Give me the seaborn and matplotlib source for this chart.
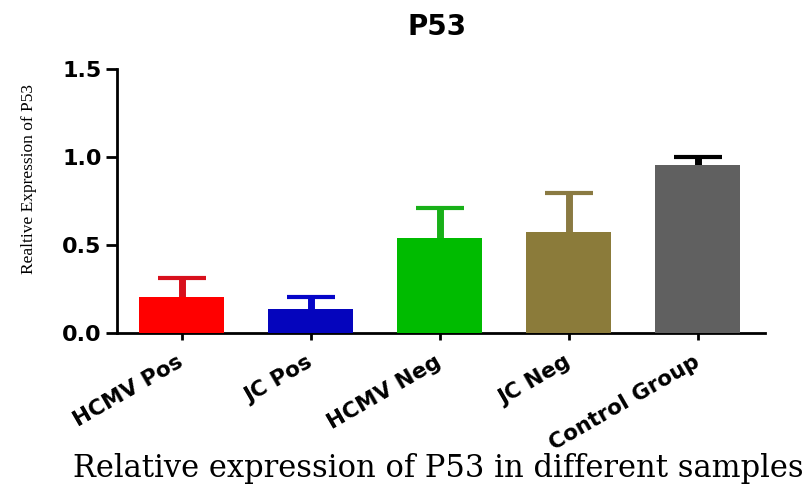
import matplotlib
matplotlib.use("Agg")
import matplotlib.pyplot as plt
import seaborn as sns
import pandas as pd

categories = ["HCMV Pos", "JC Pos", "HCMV Neg", "JC Neg", "Control Group"]
means = [0.205, 0.134, 0.537, 0.574, 0.955]
sem_upper = [0.108, 0.071, 0.176, 0.221, 0.043]
bar_colors = ["#ff0000", "#0505bd", "#00bb00", "#8b7b3a", "#606060"]
err_colors = ["#d8101c", "#0505c8", "#18b018", "#8a7a42", "#000000"]
y_ticks = [0.0, 0.5, 1.0, 1.5]
y_tick_labels = ["0.0", "0.5", "1.0", "1.5"]

sns.set_theme(style="white")
plt.rcParams["font.family"] = ["DejaVu Sans"]
plt.rcParams["text.color"] = "black"
plt.rcParams["xtick.color"] = "black"
plt.rcParams["ytick.color"] = "black"
plt.rcParams["axes.labelcolor"] = "black"

df = pd.DataFrame({"group": categories, "value": means})

fig = plt.figure(figsize=(8.12, 4.91), dpi=100)
ax = fig.add_axes([117 / 812, 1 - 333 / 491, (765 - 117) / 812, (333 - 69) / 491])

sns.barplot(data=df, x="group", y="value", hue="group", palette=bar_colors,
            order=categories, hue_order=categories, width=0.66,
            legend=False, ax=ax, saturation=1, zorder=3,
            edgecolor="none", linewidth=0)

for i, (m, e, c) in enumerate(zip(means, sem_upper, err_colors)):
    cont = ax.errorbar(i, m, yerr=[[0], [e]], fmt="none", ecolor=c,
                       elinewidth=5.0, capsize=17, capthick=3.0, zorder=2)
    caps = cont.lines[1]
    if len(caps) >= 2:
        caps[0].set_visible(False)

ax.set_xlim(-0.5, 4.52)
ax.set_ylim(0, 1.5)
ax.set_yticks(y_ticks)
ax.set_yticklabels(y_tick_labels, fontsize=16, fontweight="bold")
ax.set_xticks(range(len(categories)))
ax.set_xticklabels(categories, rotation=30, ha="right", va="center",
                   rotation_mode="anchor", fontsize=15.5, fontweight="bold")

for s in ["top", "right"]:
    ax.spines[s].set_visible(False)
for s in ["left", "bottom"]:
    ax.spines[s].set_visible(True)
    ax.spines[s].set_linewidth(2.0)
    ax.spines[s].set_color("black")

ax.tick_params(axis="y", direction="out", length=8, width=2.0, color="black",
               left=True, pad=3)
ax.tick_params(axis="x", direction="out", length=5, width=2.0, color="black",
               bottom=True, pad=15)

ax.set_xlabel("")
ax.set_ylabel("Realtive Expression of P53", family="Liberation Serif",
              fontsize=12.5)
ax.yaxis.set_label_coords(-0.123, 0.583)

fig.text(437 / 812, 1 - 27 / 491, "P53", ha="center", va="center",
         fontsize=20, fontweight="bold")
fig.text(438 / 812, 1 - 477 / 491,
         "Relative expression of P53 in different samples",
         ha="center", va="baseline", fontsize=22, family="DejaVu Serif")

fig.savefig("out.png", dpi=100)
